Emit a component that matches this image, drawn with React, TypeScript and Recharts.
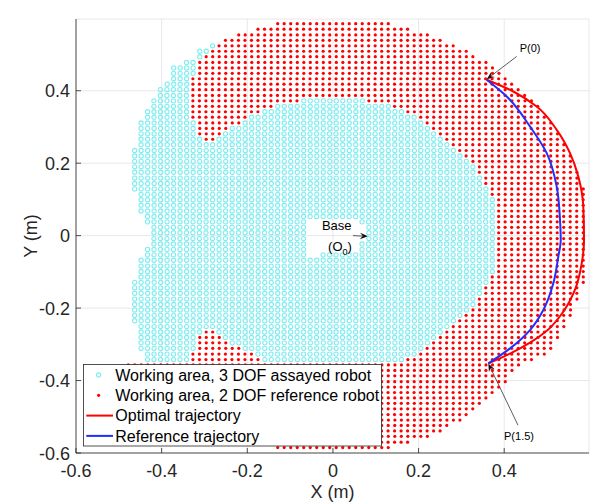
import React from 'react';
import { ScatterChart, Scatter, XAxis, YAxis, CartesianGrid, ReferenceLine, Legend } from 'recharts';

const GRID_STEP = 0.01519;
const X_DOMAIN: [number, number] = [-0.6, 0.598];
const Y_DOMAIN: [number, number] = [-0.6, 0.598];
const X_TICKS = [-0.6, -0.4, -0.2, 0, 0.2, 0.4];
const Y_TICKS = [-0.6, -0.4, -0.2, 0, 0.2, 0.4];

// rows of the sampled working areas: [y, xStart, xEnd]
const CYAN_SPANS: [number, number, number][] = [
  [0.524, -0.281, -0.281],
  [0.509, -0.311, -0.296],
  [0.494, -0.311, -0.311],
  [0.478, -0.342, -0.327],
  [0.463, -0.372, -0.327],
  [0.448, -0.372, -0.327],
  [0.433, -0.372, -0.342],
  [0.418, -0.387, -0.342],
  [0.403, -0.403, -0.342],
  [0.387, -0.403, -0.342],
  [0.372, -0.418, -0.342], [0.372, -0.068, 0.068],
  [0.357, -0.418, -0.342], [0.357, -0.129, 0.129],
  [0.342, -0.433, -0.342], [0.342, -0.159, 0.159],
  [0.327, -0.433, -0.342], [0.327, -0.19, 0.19],
  [0.311, -0.448, -0.327], [0.311, -0.205, 0.205],
  [0.296, -0.448, -0.327], [0.296, -0.235, 0.22],
  [0.281, -0.448, -0.327], [0.281, -0.251, 0.235],
  [0.266, -0.448, -0.311], [0.266, -0.266, 0.251],
  [0.251, -0.448, 0.266],
  [0.235, -0.463, 0.281],
  [0.22, -0.463, 0.296],
  [0.205, -0.463, 0.311],
  [0.19, -0.463, 0.327],
  [0.175, -0.463, 0.327],
  [0.159, -0.463, 0.342],
  [0.144, -0.463, 0.342],
  [0.129, -0.463, 0.357],
  [0.114, -0.448, 0.357],
  [0.099, -0.448, 0.372],
  [0.084, -0.448, 0.372],
  [0.068, -0.448, 0.372],
  [0.053, -0.433, 0.372],
  [0.038, -0.433, -0.068], [0.038, 0.068, 0.372],
  [0.023, -0.418, -0.068], [0.023, 0.084, 0.372],
  [0.008, -0.418, -0.068], [0.008, 0.084, 0.372],
  [-0.008, -0.418, -0.068], [-0.008, 0.084, 0.372],
  [-0.023, -0.418, -0.068], [-0.023, 0.068, 0.372],
  [-0.038, -0.433, -0.068], [-0.038, 0.068, 0.372],
  [-0.053, -0.433, -0.068], [-0.053, -0.023, 0.372],
  [-0.068, -0.448, 0.372],
  [-0.084, -0.448, 0.372],
  [-0.099, -0.448, 0.372],
  [-0.114, -0.448, 0.357],
  [-0.129, -0.463, 0.357],
  [-0.144, -0.463, 0.342],
  [-0.159, -0.463, 0.342],
  [-0.175, -0.463, 0.327],
  [-0.19, -0.463, 0.327],
  [-0.205, -0.463, 0.311],
  [-0.22, -0.463, 0.296],
  [-0.235, -0.463, 0.281],
  [-0.251, -0.448, 0.266],
  [-0.266, -0.448, -0.311], [-0.266, -0.266, 0.251],
  [-0.281, -0.448, -0.327], [-0.281, -0.251, 0.235],
  [-0.296, -0.448, -0.327], [-0.296, -0.235, 0.22],
  [-0.311, -0.448, -0.327], [-0.311, -0.205, 0.205],
  [-0.327, -0.433, -0.342], [-0.327, -0.175, 0.19],
  [-0.342, -0.433, -0.342], [-0.342, -0.159, 0.159],
];

const RED_SPANS: [number, number, number][] = [
  [0.585, -0.129, 0.129],
  [0.57, -0.175, 0.175],
  [0.554, -0.22, 0.22],
  [0.539, -0.251, 0.251],
  [0.524, -0.266, 0.281],
  [0.509, -0.281, 0.311],
  [0.494, -0.296, 0.327],
  [0.478, -0.311, 0.357],
  [0.463, -0.311, 0.372],
  [0.448, -0.311, 0.387],
  [0.433, -0.327, 0.403],
  [0.418, -0.327, 0.418],
  [0.403, -0.327, 0.433],
  [0.387, -0.327, 0.448],
  [0.372, -0.327, -0.084], [0.372, 0.084, 0.463],
  [0.357, -0.327, -0.144], [0.357, 0.144, 0.478],
  [0.342, -0.327, -0.175], [0.342, 0.175, 0.478],
  [0.327, -0.327, -0.205], [0.327, 0.205, 0.494],
  [0.311, -0.311, -0.22], [0.311, 0.22, 0.509],
  [0.296, -0.311, -0.251], [0.296, 0.235, 0.509],
  [0.281, -0.311, -0.266], [0.281, 0.251, 0.524],
  [0.266, -0.296, -0.281], [0.266, 0.266, 0.524],
  [0.251, 0.281, 0.539],
  [0.235, 0.296, 0.539],
  [0.22, 0.311, 0.554],
  [0.205, 0.327, 0.554],
  [0.19, 0.342, 0.554],
  [0.175, 0.342, 0.57],
  [0.159, 0.357, 0.57],
  [0.144, 0.357, 0.57],
  [0.129, 0.372, 0.585],
  [0.114, 0.372, 0.585],
  [0.099, 0.387, 0.585],
  [0.084, 0.387, 0.585],
  [0.068, 0.387, 0.585],
  [0.053, 0.387, 0.585],
  [0.038, 0.387, 0.585],
  [0.023, 0.387, 0.585],
  [0.008, 0.387, 0.585],
  [-0.008, 0.387, 0.585],
  [-0.023, 0.387, 0.585],
  [-0.038, 0.387, 0.585],
  [-0.053, 0.387, 0.585],
  [-0.068, 0.387, 0.585],
  [-0.084, 0.387, 0.585],
  [-0.099, 0.387, 0.585],
  [-0.114, 0.372, 0.585],
  [-0.129, 0.372, 0.585],
  [-0.144, 0.357, 0.57],
  [-0.159, 0.357, 0.57],
  [-0.175, 0.342, 0.57],
  [-0.19, 0.342, 0.554],
  [-0.205, 0.327, 0.554],
  [-0.22, 0.311, 0.554],
  [-0.235, 0.296, 0.539],
  [-0.251, 0.281, 0.539],
  [-0.266, -0.296, -0.281], [-0.266, 0.266, 0.524],
  [-0.281, -0.311, -0.266], [-0.281, 0.251, 0.524],
  [-0.296, -0.311, -0.251], [-0.296, 0.235, 0.509],
  [-0.311, -0.311, -0.22], [-0.311, 0.22, 0.509],
  [-0.327, -0.327, -0.19], [-0.327, 0.205, 0.494],
  [-0.342, -0.327, -0.175], [-0.342, 0.175, 0.463],
  [-0.357, -0.478, 0.433],
  [-0.372, -0.463, 0.418],
  [-0.387, -0.448, 0.403],
  [-0.403, -0.433, 0.403],
  [-0.418, -0.418, 0.387],
  [-0.433, -0.403, 0.372],
  [-0.448, -0.387, 0.357],
  [-0.463, -0.372, 0.342],
  [-0.478, -0.357, 0.327],
  [-0.494, -0.327, 0.311],
  [-0.509, -0.311, 0.296],
  [-0.524, -0.281, 0.266],
  [-0.539, -0.251, 0.251],
  [-0.554, -0.22, 0.22],
  [-0.57, -0.175, 0.175],
  [-0.585, -0.129, 0.129],
];

const OPTIMAL_TRAJ: [number, number][] = [
  [0.3591, 0.4302], [0.4213, 0.3979], [0.4759, 0.3564], [0.5226, 0.292],
  [0.5537, 0.2276], [0.5731, 0.1629], [0.5847, 0.08], [0.5864, -0.012],
  [0.581, -0.0764], [0.5653, -0.1492], [0.538, -0.2099], [0.5023, -0.2596],
  [0.4603, -0.2955], [0.4136, -0.3258], [0.3629, -0.3528],
];

const REFERENCE_TRAJ: [number, number][] = [
  [0.3591, 0.4302], [0.4058, 0.3841], [0.4603, 0.3012], [0.4993, 0.2276],
  [0.5226, 0.1353], [0.5303, 0.0433], [0.532, -0.012], [0.5263, -0.0582],
  [0.5147, -0.1317], [0.4913, -0.2055], [0.4603, -0.2607], [0.4136, -0.3113],
  [0.3629, -0.3528],
];

const TEXT_NOTES = [
  { x: 0.4603, y: 0.5187, text: 'P(0)', size: 11 },
  { x: 0.4346, y: -0.5537, text: 'P(1.5)', size: 11 },
  { x: 0.0088, y: 0.028, text: 'Base', size: 13 },
  { x: 0.0165, y: -0.0286, text: '(O|0|)', size: 13 },
];

const ARROWS: { from: [number, number]; to: [number, number]; head: number }[] = [
  { from: [0.4292, 0.4946], to: [0.3591, 0.4316], head: 8 },
  { from: [0.4322, -0.5233], to: [0.3629, -0.3528], head: 8 },
  { from: [0.0468, 0.0], to: [0.0818, -0.002], head: 8 },
];

const LEGEND_ITEMS = [
  { label: 'Working area, 3 DOF assayed robot', kind: 'ring', color: '#7fedf0' },
  { label: 'Working area, 2 DOF reference robot', kind: 'dot', color: '#ff0000' },
  { label: 'Optimal trajectory', kind: 'line', color: '#ff0000' },
  { label: 'Reference trajectory', kind: 'line', color: '#1f2fff' },
];

const FONT = '"Liberation Sans", Arial, Helvetica, sans-serif';
const AX = '#262626';

function expand(spans: [number, number, number][]) {
  const pts: { x: number; y: number }[] = [];
  for (const [y, x0, x1] of spans) {
    const n = Math.round((x1 - x0) / GRID_STEP);
    for (let i = 0; i <= n; i++) pts.push({ x: x0 + i * GRID_STEP, y });
  }
  return pts;
}

const cyanPts = expand(CYAN_SPANS);
const redPts = expand(RED_SPANS);
const optimalPts = OPTIMAL_TRAJ.map(([x, y]) => ({ x, y }));
const referencePts = REFERENCE_TRAJ.map(([x, y]) => ({ x, y }));

const fmt = (v: number) => (Math.abs(v) < 1e-9 ? '0' : String(Math.round(v * 10) / 10));

const BottomTick = (p: any) => (
  <g>
    <line x1={p.x} y1={p.y} x2={p.x} y2={p.y - 5} stroke={AX} strokeWidth={0.8} />
    <text x={p.x} y={p.y + 24} textAnchor="middle" fontSize={18} fill={AX} fontFamily={FONT}>
      {fmt(p.payload.value)}
    </text>
  </g>
);
const TopTick = (p: any) => <line x1={p.x} y1={p.y} x2={p.x} y2={p.y + 5} stroke={AX} strokeWidth={0.8} />;
const LeftTick = (p: any) => (
  <g>
    <line x1={p.x} y1={p.y} x2={p.x + 5} y2={p.y} stroke={AX} strokeWidth={0.8} />
    <text x={p.x - 6} y={p.y + 6.5} textAnchor="end" fontSize={18} fill={AX} fontFamily={FONT}>
      {fmt(p.payload.value)}
    </text>
  </g>
);
const RightTick = (p: any) => <line x1={p.x} y1={p.y} x2={p.x - 5} y2={p.y} stroke={AX} strokeWidth={0.8} />;

const RingShape = (p: any) => (
  <circle cx={p.cx} cy={p.cy} r={2.1} fill="none" stroke="#7fedf0" strokeWidth={1.1} />
);
const DotShape = (p: any) => <circle cx={p.cx} cy={p.cy} r={1.6} fill="#ff0000" />;
const NoShape = () => <g />;

const TextShape = (p: any) => {
  const t: string = p.payload.text;
  const size = p.payload.size;
  if (t.includes('|')) {
    const [a, b, c] = t.split('|');
    return (
      <text x={p.cx} y={p.cy + size * 0.35} textAnchor="middle" fontSize={size} fill="#000" fontFamily={FONT}>
        <tspan>{a}</tspan>
        <tspan fontSize={size * 0.7} dy={4}>{b}</tspan>
        <tspan dy={-4}>{c}</tspan>
      </text>
    );
  }
  return (
    <text x={p.cx} y={p.cy + size * 0.35} textAnchor="middle" fontSize={size} fill="#000" fontFamily={FONT}>
      {t}
    </text>
  );
};

const ArrowShape = (head: number) => (p: any) => {
  const { x1, y1, x2, y2 } = p;
  const ang = Math.atan2(y2 - y1, x2 - x1);
  const c = Math.cos(ang), s = Math.sin(ang);
  const bx = x2 - head * c, by = y2 - head * s;
  const nx = x2 - head * 0.65 * c, ny = y2 - head * 0.65 * s;
  const w = head * 0.4;
  return (
    <g>
      <line x1={x1} y1={y1} x2={nx} y2={ny} stroke="#333" strokeWidth={0.8} />
      <polygon
        points={`${x2},${y2} ${bx - s * w},${by + c * w} ${nx},${ny} ${bx + s * w},${by - c * w}`}
        fill="#111"
      />
    </g>
  );
};

const LegendBox = () => (
  <svg width={300} height={83} style={{ display: 'block' }}>
    <rect x={0.5} y={0.5} width={298} height={81.5} fill="#fff" stroke={AX} strokeWidth={0.8} />
    {LEGEND_ITEMS.map((it, i) => {
      const cy = 11 + i * 20.3;
      return (
        <g key={it.label}>
          {it.kind === 'ring' && <circle cx={15.6} cy={cy} r={2.1} fill="none" stroke={it.color} strokeWidth={1.1} />}
          {it.kind === 'dot' && <circle cx={15.6} cy={cy} r={1.6} fill={it.color} />}
          {it.kind === 'line' && <line x1={3.3} y1={cy} x2={30} y2={cy} stroke={it.color} strokeWidth={2} />}
          <text x={32.3} y={cy + 5.8} fontSize={16} fill="#000" fontFamily={FONT}>
            {it.label}
          </text>
        </g>
      );
    })}
  </svg>
);

export default function App() {
  return (
    <ScatterChart width={590} height={496} margin={{ top: 11, right: 9, left: 18, bottom: 21 }}>
      <CartesianGrid stroke="#e2e2e2" strokeWidth={0.8} />
      <XAxis
        type="number"
        dataKey="x"
        domain={X_DOMAIN}
        ticks={X_TICKS}
        interval={0}
        allowDataOverflow
        height={30}
        tickSize={0}
        tickMargin={0}
        tickLine={false}
        axisLine={{ stroke: AX, strokeWidth: 0.8 }}
        tick={<BottomTick />}
        label={(p: any) => {
          const vb = p.viewBox || { x: 68, y: 445, width: 513 };
          return (
            <text x={vb.x + vb.width / 2} y={vb.y + 45} textAnchor="middle" fontSize={18} fill={AX} fontFamily={FONT}>
              X (m)
            </text>
          );
        }}
      />
      <XAxis
        xAxisId="top"
        orientation="top"
        type="number"
        dataKey="x"
        domain={X_DOMAIN}
        ticks={X_TICKS}
        interval={0}
        allowDataOverflow
        height={0}
        tickSize={0}
        tickMargin={0}
        tickLine={false}
        axisLine={{ stroke: AX, strokeWidth: 0.8 }}
        tick={<TopTick />}
        label={() => (
          <text x={579.7} y={7} textAnchor="end" fontSize={8.5} fill="#333" fontFamily={FONT}>
            T-34
          </text>
        )}
      />
      <YAxis
        type="number"
        dataKey="y"
        domain={Y_DOMAIN}
        ticks={Y_TICKS}
        interval={0}
        allowDataOverflow
        width={50}
        tickSize={0}
        tickMargin={0}
        tickLine={false}
        axisLine={{ stroke: AX, strokeWidth: 0.8 }}
        tick={<LeftTick />}
        label={(p: any) => {
          const vb = p.viewBox || { y: 11, height: 434 };
          const cy = vb.y + vb.height / 2;
          return (
            <text
              x={29.4}
              y={cy}
              transform={`rotate(-90 29.4 ${cy})`}
              textAnchor="middle"
              fontSize={18}
              fill={AX}
              fontFamily={FONT}
            >
              Y (m)
            </text>
          );
        }}
      />
      <YAxis
        yAxisId="right"
        orientation="right"
        type="number"
        dataKey="y"
        domain={Y_DOMAIN}
        ticks={Y_TICKS}
        interval={0}
        allowDataOverflow
        width={0}
        tickSize={0}
        tickMargin={0}
        tickLine={false}
        axisLine={{ stroke: AX, strokeWidth: 0.8 }}
        tick={<RightTick />}
      />
      <Scatter name="cyan" data={cyanPts} shape={RingShape} isAnimationActive={false} />
      <Scatter name="red" data={redPts} shape={DotShape} isAnimationActive={false} />
      <Scatter
        name="Optimal trajectory"
        data={optimalPts}
        fill="#ff0000"
        line={{ stroke: '#ff0000', strokeWidth: 2 }}
        lineJointType="monotoneY"
        shape={NoShape}
        isAnimationActive={false}
      />
      <Scatter
        name="Reference trajectory"
        data={referencePts}
        fill="#1f2fff"
        line={{ stroke: '#1f2fff', strokeWidth: 2 }}
        lineJointType="monotoneY"
        shape={NoShape}
        isAnimationActive={false}
      />
      {ARROWS.map((a, i) => (
        <ReferenceLine
          key={i}
          segment={[{ x: a.from[0], y: a.from[1] }, { x: a.to[0], y: a.to[1] }]}
          shape={ArrowShape(a.head)}
          ifOverflow="visible"
        />
      ))}
      <Scatter name="notes" data={TEXT_NOTES} shape={TextShape} isAnimationActive={false} />
      <Legend
        layout="vertical"
        align="center"
        verticalAlign="middle"
        content={() => <LegendBox />}
        wrapperStyle={{ left: 74.7, top: 355.7, width: 300, height: 83 }}
      />
    </ScatterChart>
  );
}
